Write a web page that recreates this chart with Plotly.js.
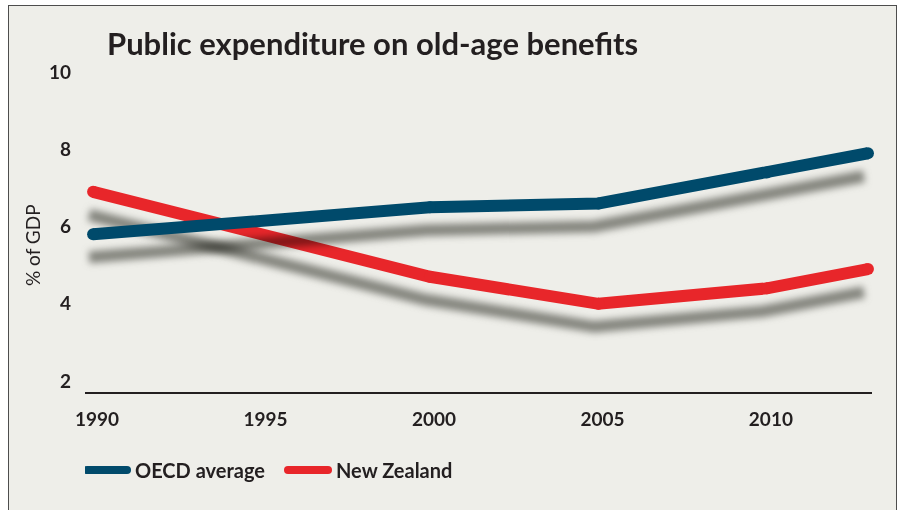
<!DOCTYPE html>
<html><head><meta charset="utf-8">
<script src="https://cdn.plot.ly/plotly-3.0.1.min.js"></script>
<style>
html,body{margin:0;padding:0;background:#fff;overflow:hidden;width:901px;height:510px}
#frame{position:absolute;left:8px;top:5px;width:889px;height:530px;border:1.5px solid #4d4d4d;background:#eeeee9;box-sizing:border-box}
#chart{position:absolute;left:0;top:0;width:901px;height:510px}
</style></head><body>
<div id="frame"></div><div id="chart"></div>
<script>
const years = [1990, 2000, 2005, 2010, 2013];
const oecdAverage = [5.8, 6.5, 6.6, 7.4, 7.9];
const newZealand = [6.9, 4.7, 4.0, 4.4, 4.9];
const seriesNames = ['OECD average', 'New Zealand'];
const xTickVals = [1990, 1995, 2000, 2005, 2010];
const yTickVals = [2, 4, 6, 8, 10];
const titleText = 'Public expenditure on old-age benefits';
const yTitleText = '% of GDP';

const BLUE = '#004a6b', RED = '#e8262a', SHADOW = '#8e8f8a', INK = '#231f20';
const FONT = 'Lato, "Open Sans", sans-serif';

function shadow(y) {
  return {x: years, y: y, mode: 'lines', line: {color: SHADOW, width: 12},
          showlegend: false, hoverinfo: 'skip', cliponaxis: false};
}
function line(y, name, color, rank) {
  return {x: years, y: y, name: name, mode: 'lines', line: {color: color, width: 12},
          legendrank: rank, cliponaxis: false};
}
function caps(y, color) {
  return {x: years, y: y, mode: 'markers', marker: {color: color, size: 12, line: {width: 0}},
          showlegend: false, hoverinfo: 'skip', cliponaxis: false};
}

const data = [
  shadow(newZealand), line(newZealand, seriesNames[1], RED, 2), caps(newZealand, RED),
  shadow(oecdAverage), line(oecdAverage, seriesNames[0], BLUE, 1), caps(oecdAverage, BLUE)
];

const layout = {
  width: 901, height: 510,
  paper_bgcolor: 'rgba(0,0,0,0)', plot_bgcolor: 'rgba(0,0,0,0)',
  margin: {l: 85, r: 29, t: 60, b: 118},
  font: {family: FONT, color: INK},
  title: {text: titleText, font: {family: FONT, size: 31, weight: 'bold', color: INK},
          x: 107/901, xanchor: 'left', xref: 'container', y: 1 - 44/510, yanchor: 'middle', yref: 'container'},
  xaxis: {range: [1989.76, 2013.12], tickvals: xTickVals, showgrid: false, zeroline: false,
          showline: true, linecolor: INK, linewidth: 1.5, ticks: '',
          tickfont: {family: FONT, size: 19, weight: 'bold', color: INK}, ticklabelstandoff: 10,
          ticklabelshift: 4},
  yaxis: {range: [1.715, 10.316], tickvals: yTickVals, showgrid: false, zeroline: false,
          showline: false, ticks: '',
          tickfont: {family: FONT, size: 19, weight: 'bold', color: INK}, ticklabelstandoff: 13},
  annotations: [{text: yTitleText, xref: 'paper', yref: 'paper', x: -0.066, y: 0.443,
                 textangle: -90, showarrow: false, xanchor: 'center', yanchor: 'middle',
                 font: {family: FONT, size: 19, color: INK}}],
  legend: {orientation: 'h', x: 0.0, xanchor: 'left', y: -0.235, yanchor: 'middle',
           bgcolor: 'rgba(0,0,0,0)', font: {family: FONT, size: 20, weight: 'bold', color: INK},
           itemwidth: 40, traceorder: 'normal', entrywidth: 146, entrywidthmode: 'pixels'},
  showlegend: true
};

Plotly.newPlot('chart', data, layout, {displayModeBar: false, staticPlot: true}).then(function (gd) {
  const ns = 'http://www.w3.org/2000/svg';
  const svg = gd.querySelector('.main-svg');
  let defs = svg.querySelector('defs');
  if (!defs) { defs = document.createElementNS(ns, 'defs'); svg.insertBefore(defs, svg.firstChild); }
  const f = document.createElementNS(ns, 'filter');
  f.setAttribute('id', 'lineShadow');
  f.setAttribute('x', '-10%'); f.setAttribute('y', '-80%');
  f.setAttribute('width', '120%'); f.setAttribute('height', '260%');
  const b = document.createElementNS(ns, 'feGaussianBlur');
  b.setAttribute('in', 'SourceGraphic'); b.setAttribute('stdDeviation', '3.5'); b.setAttribute('result', 'bl');
  const o = document.createElementNS(ns, 'feOffset');
  o.setAttribute('in', 'bl'); o.setAttribute('dx', '-4'); o.setAttribute('dy', '23');
  f.appendChild(b); f.appendChild(o); defs.appendChild(f);
  const traces = gd.querySelectorAll('.scatterlayer .trace');
  [0, 3].forEach(function (i) {
    if (traces[i]) {
      traces[i].setAttribute('filter', 'url(#lineShadow)');
      traces[i].style.mixBlendMode = 'multiply';
    }
  });
  gd.querySelectorAll('.legend .legendlines path').forEach(function (p) {
    p.style.strokeLinecap = 'round';
    p.style.strokeWidth = '8px';
    p.setAttribute('transform', 'translate(-3,0)');
  });
});
</script>
</body></html>
